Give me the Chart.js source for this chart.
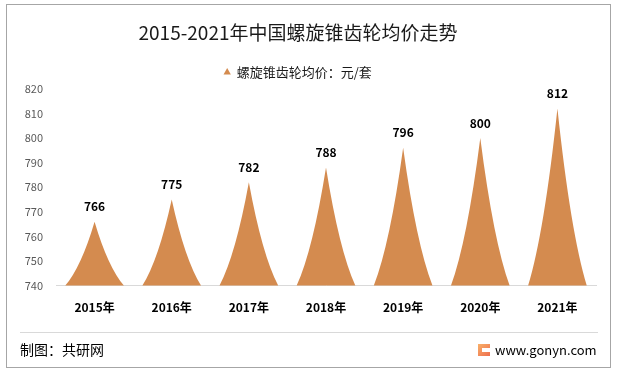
<!DOCTYPE html>
<html>
<head>
<meta charset="utf-8">
<script src="https://cdn.jsdelivr.net/npm/chart.js@4.4.0/dist/chart.umd.min.js"></script>
<style>
  html, body { margin: 0; padding: 0; background: #fff; }
  #wrap { width: 617px; height: 376px; }
</style>
</head>
<body>
<div id="wrap"><canvas id="mycanvas" width="617" height="376"></canvas></div>
<script>
var years = ["2015年", "2016年", "2017年", "2018年", "2019年", "2020年", "2021年"];
var avgPrice = [766, 775, 782, 788, 796, 800, 812];
var yMin = 740, yMax = 820, yStep = 10;

var FONT = '"Noto Sans CJK SC", "Noto Sans", sans-serif';
var spikeColor = "#D48B4F";

// draw the bars as concave spikes (Excel "sharp triangle" style)
var spikePlugin = {
    id: 'spikes',
    beforeDatasetDraw: function(chart) {
        return false;
    },
    afterDatasetsDraw: function(chart) {
        var ctx = chart.ctx;
        var meta = chart.getDatasetMeta(0);
        var base = chart.scales.y.getPixelForValue(yMin);
        ctx.save();
        meta.data.forEach(function(el, i) {
            var p = el.getProps(['x', 'y', 'width'], true);
            var hw = p.width / 2;
            var h = base - p.y;
            ctx.beginPath();
            ctx.moveTo(p.x - hw, base);
            ctx.quadraticCurveTo(p.x - hw * 0.45, base - h * 0.3, p.x, p.y);
            ctx.quadraticCurveTo(p.x + hw * 0.45, base - h * 0.3, p.x + hw, base);
            ctx.closePath();
            ctx.fillStyle = spikeColor;
            ctx.fill();

            ctx.fillStyle = "#000";
            ctx.font = "bold 12px " + FONT;
            ctx.textAlign = "center";
            ctx.textBaseline = "middle";
            ctx.fillText(avgPrice[i], p.x, p.y - 15);
        });
        ctx.restore();
    }
};

var framePlugin = {
    id: 'frame',
    beforeDraw: function(chart) {
        var ctx = chart.ctx;
        ctx.save();
        ctx.fillStyle = "#fff";
        ctx.fillRect(0, 0, chart.width, chart.height);
        ctx.restore();
    },
    afterDraw: function(chart) {
        var ctx = chart.ctx;
        ctx.save();
        ctx.strokeStyle = "#a6a6a6";
        ctx.lineWidth = 1;
        ctx.strokeRect(6.5, 4.5, 604, 363);

        ctx.strokeStyle = "#d9d9d9";
        ctx.beginPath();
        ctx.moveTo(20, 332.5);
        ctx.lineTo(598, 332.5);
        ctx.stroke();

        ctx.fillStyle = "#000";
        ctx.font = "14px " + FONT;
        ctx.textBaseline = "middle";
        ctx.textAlign = "left";
        ctx.fillText("制图：共研网", 20, 350);

        // little logo
        var g = ctx.createLinearGradient(478, 343, 490, 356);
        g.addColorStop(0, "#f9b36a");
        g.addColorStop(1, "#ee6e4e");
        ctx.fillStyle = g;
        ctx.fillRect(478, 344, 12, 12);
        ctx.fillStyle = "#fff";
        ctx.fillRect(482, 348, 8, 4);
        ctx.fillStyle = "#000";
        ctx.font = "13px " + FONT;
        ctx.fillText("www.gonyn.com", 495, 350);
        ctx.restore();
    }
};

var chartdata = {
    labels: years,
    datasets: [
        {
            label: "螺旋锥齿轮均价：元/套",
            data: avgPrice,
            backgroundColor: spikeColor,
            borderWidth: 0,
            barPercentage: 0.76,
            categoryPercentage: 1
        }
    ]
};

var ctx = document.getElementById("mycanvas");
var SpikeGraph = new Chart(ctx, {
    type: 'bar',
    data: chartdata,
    plugins: [framePlugin, spikePlugin],
    options: {
        responsive: false,
        animation: false,
        layout: { padding: { left: 0, right: 21, top: 0, bottom: 46 } },
        plugins: {
            title: {
                display: true,
                text: "2015-2021年中国螺旋锥齿轮均价走势",
                color: "#1a1a1a",
                font: { family: FONT, size: 19, weight: 'normal' },
                padding: { top: 21, bottom: 13 }
            },
            legend: {
                display: true,
                labels: {
                    usePointStyle: true,
                    pointStyle: 'triangle',
                    boxWidth: 6,
                    boxHeight: 6,
                    padding: 9,
                    color: "#1a1a1a",
                    font: { family: FONT, size: 13 }
                }
            },
            tooltip: { enabled: false }
        },
        scales: {
            x: {
                grid: { display: false, drawTicks: false },
                border: { display: true, color: "#d9d9d9" },
                ticks: {
                    color: "#000",
                    padding: 15,
                    font: { family: FONT, size: 12, weight: 'bold' }
                }
            },
            y: {
                min: yMin,
                max: yMax,
                grid: { display: false, drawTicks: false },
                border: { display: false },
                ticks: {
                    stepSize: yStep,
                    color: "#595959",
                    padding: 13,
                    font: { family: FONT, size: 11 }
                },
                afterFit: function(scale) { scale.width = 56; }
            }
        }
    }
});
</script>
</body>
</html>
